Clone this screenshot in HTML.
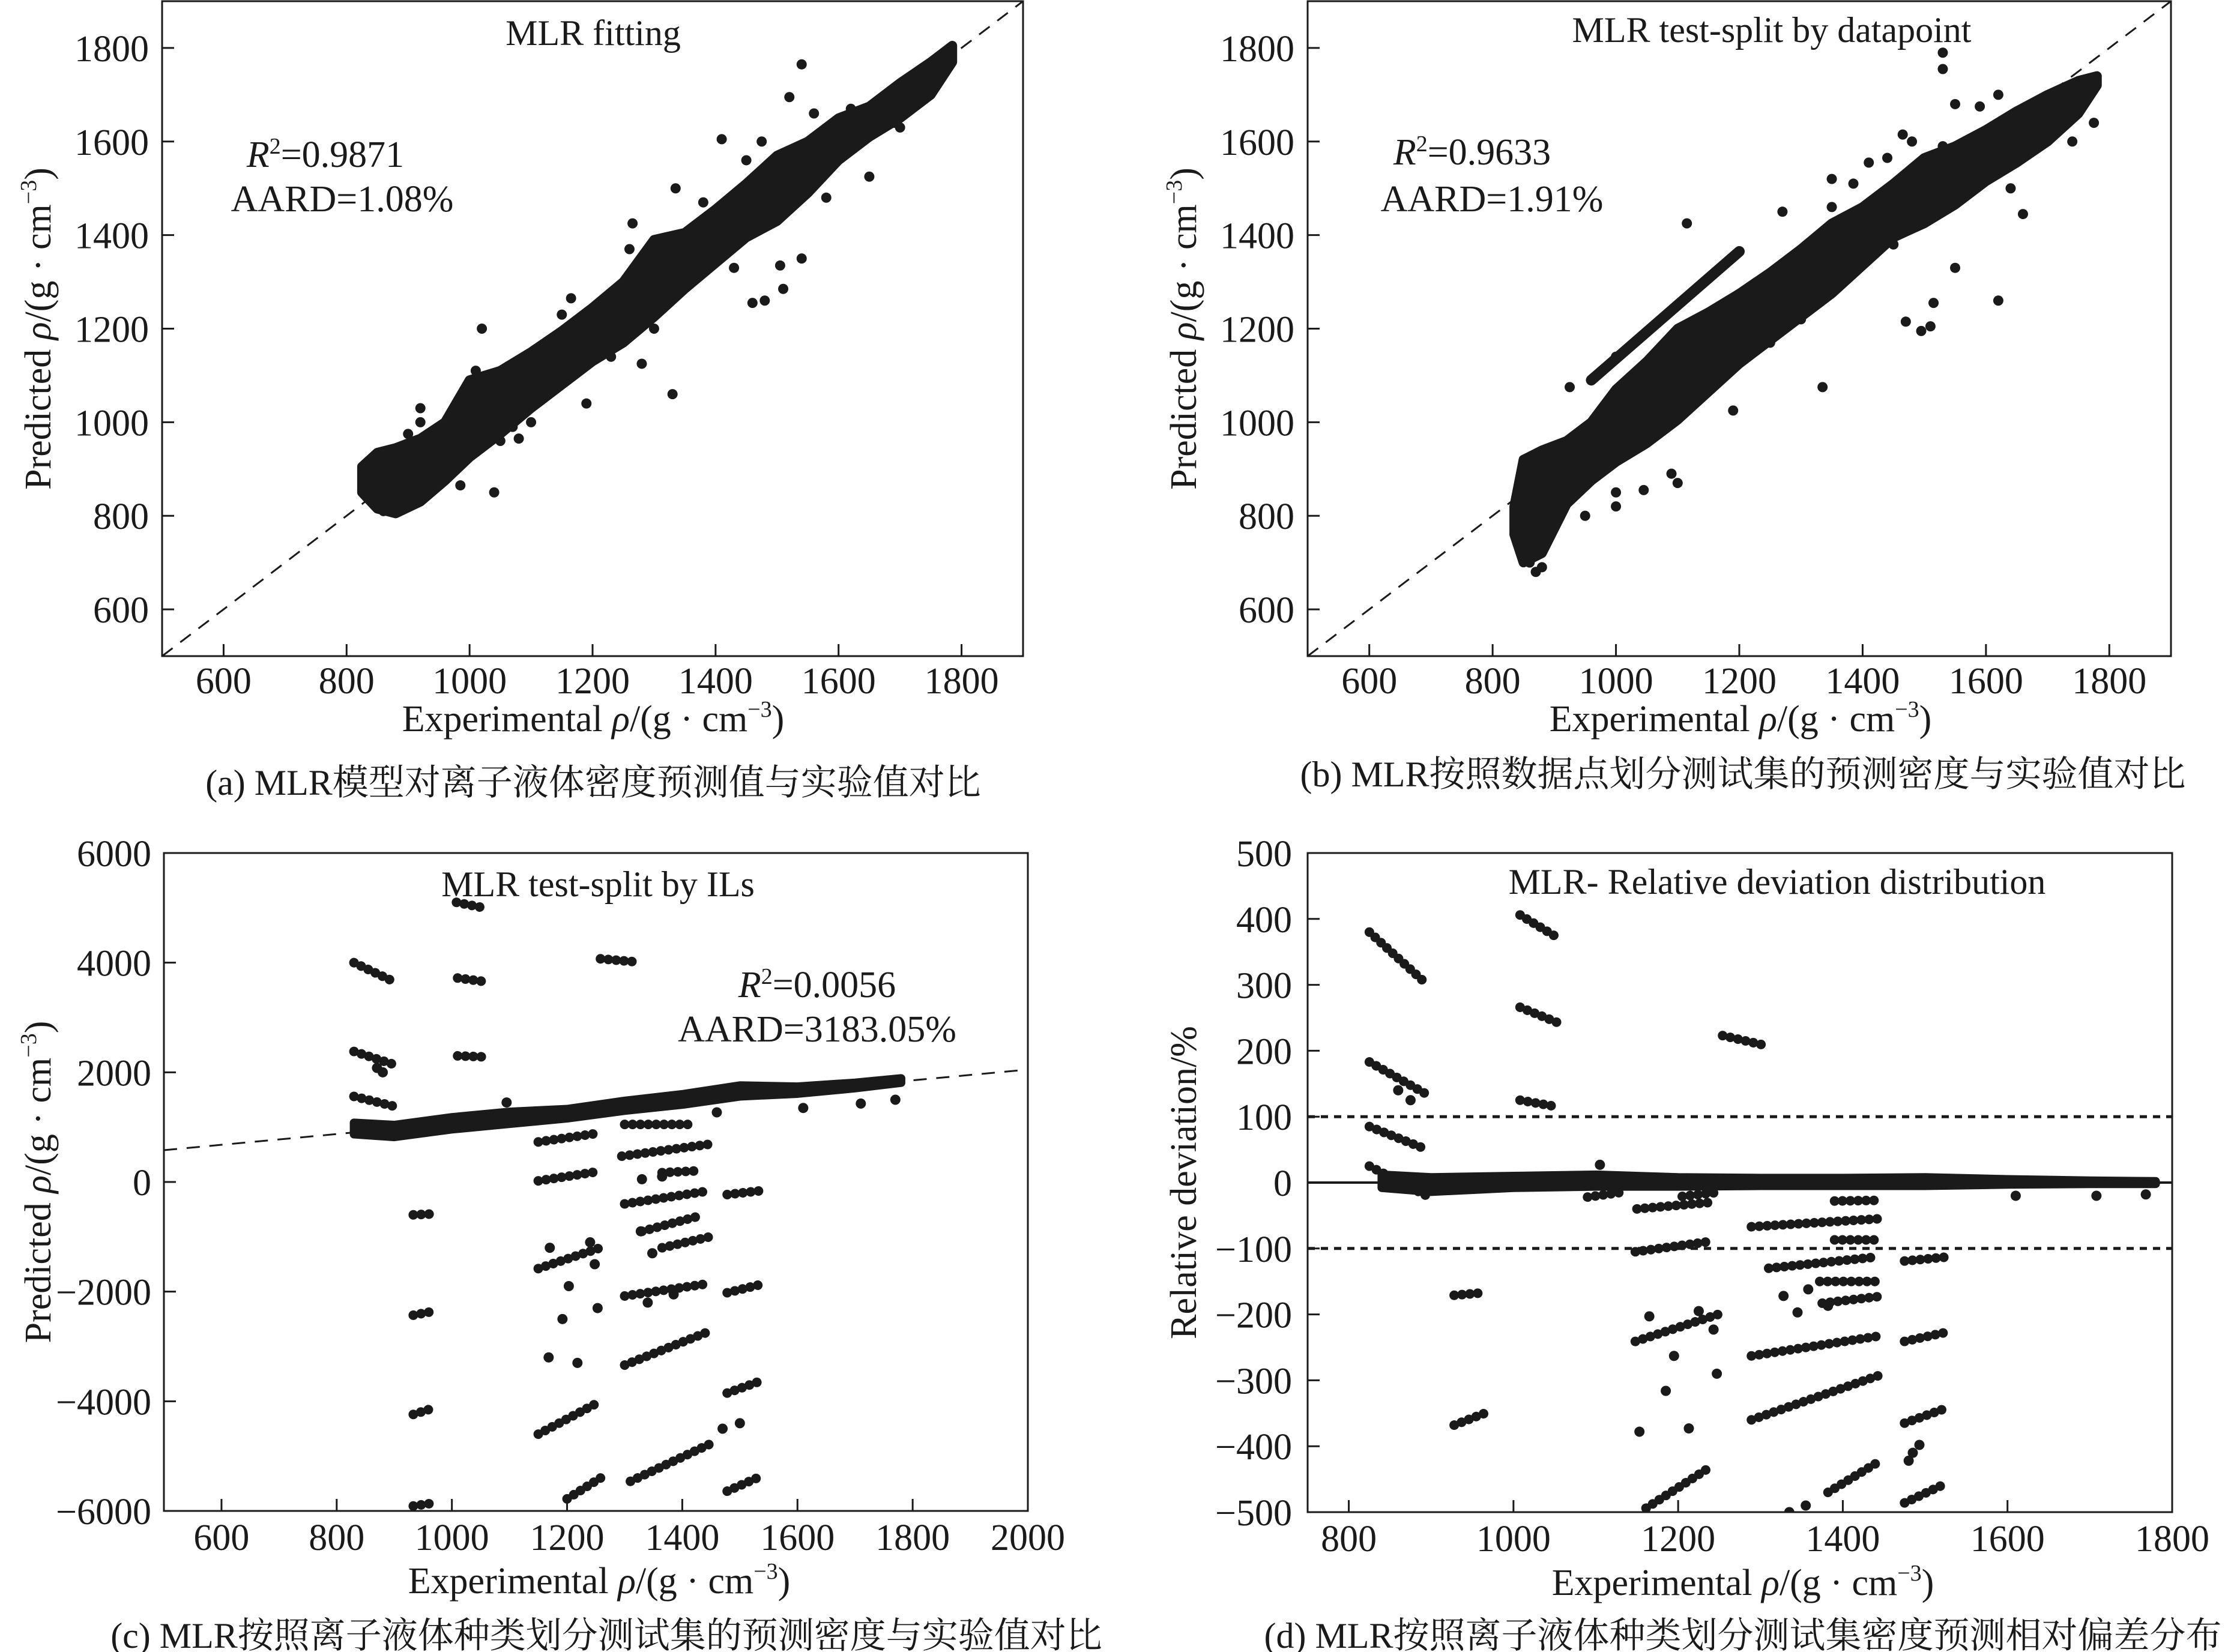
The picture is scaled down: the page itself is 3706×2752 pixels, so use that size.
<!DOCTYPE html>
<html><head><meta charset="utf-8"><style>
html,body{margin:0;padding:0;background:#fff;}
svg{display:block;}
text{font-family:"Liberation Serif","Noto Serif CJK SC",serif;fill:#1a1a1a;}
</style></head><body>
<svg id="fig" width="3706" height="2752" viewBox="0 0 3706 2752" xmlns="http://www.w3.org/2000/svg"></svg>
<script>
// ---------- Panel (a) data ----------
const aBandExp = [825,850,880,920,960,1000,1050,1100,1150,1200,1250,1300,1350,1400,1450,1500,1550,1600,1650,1700,1750,1785];
const aBandHi  = [905,935,945,965,1000,1090,1110,1150,1195,1245,1300,1390,1405,1455,1510,1570,1600,1650,1675,1725,1770,1805];
const aBandLo  = [850,815,805,830,875,925,975,1030,1080,1130,1170,1225,1285,1340,1395,1430,1490,1560,1610,1650,1700,1770];
const aOutExp  = [1020,920,920,900,1040,985,1165,1190,1280,1330,1410,1475,1540,1520,1540,1460,1480,1510,1505,1650,1580,1335,1265,1560,1740,1710,1690,1430,1050,1080,1000,1010,1070,1100,1150,1230,1260,1300,1380,1450,1500,1600,1620,1700,1720,940,960,880,860];
const aOutPred = [1200,1030,1000,975,850,865,1265,1040,1125,1060,1605,1600,1765,1695,1350,1255,1260,1285,1335,1525,1480,1500,1425,1660,1700,1665,1640,1330,960,965,1080,1110,990,1000,1230,1140,1370,1200,1470,1560,1520,1590,1670,1630,1690,870,980,830,810];
// ---------- Panel (b) data ----------
const bBandExp = [835,850,880,920,960,1000,1050,1100,1150,1200,1250,1300,1350,1400,1450,1500,1550,1600,1650,1700,1750,1780];
const bBandHi  = [820,920,940,960,1000,1070,1130,1200,1235,1275,1320,1370,1425,1460,1510,1565,1590,1625,1665,1700,1730,1740];
const bBandLo  = [760,700,720,825,875,915,955,1005,1065,1125,1175,1225,1275,1335,1395,1425,1465,1515,1555,1600,1660,1720];
const bStreakExp = [960,1200];
const bStreakPred = [1090,1365];
const bOutExp  = [925,1115,1270,1335,1530,1530,1550,1590,1620,1465,1470,1495,1510,1515,1550,1620,1660,1640,1775,1740,1190,1100,1090,1045,1000,950,1000,1350,1385,1410,1440,1530,1480,870,880,860,1000,1050,1150,1250,1300,1350,1450,1560,1600,1690,1720];
const bOutPred = [1075,1425,1450,1075,1790,1755,1680,1675,1700,1615,1215,1195,1205,1255,1330,1260,1445,1500,1640,1600,1025,870,890,855,820,800,850,1520,1510,1555,1565,1590,1600,680,690,700,1140,1090,1120,1170,1220,1460,1380,1510,1540,1600,1650];
// ---------- Panel (c) data ----------
const cBandExp = [830,900,1000,1100,1200,1300,1400,1500,1600,1700,1780];
const cBandHi  = [1080,1040,1180,1280,1330,1480,1600,1760,1740,1810,1890];
const cBandLo  = [870,820,960,1060,1160,1300,1410,1560,1610,1710,1810];
const cSegX1 = [830,830,830,1008,1010,1010,1258,933,933,933,933,1150,1150,1150,1150,1200,1295,1300,1330,1365,1300,1300,1310,1478,1478,1478,1478,1300,1365];
const cSegY1 = [4000,2380,1560,5100,3720,2300,4070,-600,-2430,-4240,-5910,20,730,-1580,-4600,-5780,470,-400,-900,-1200,-2080,-3340,-5460,-230,-2020,-3850,-5640,1050,170];
const cSegX2 = [900,900,900,1060,1060,1060,1313,972,972,972,972,1248,1248,1258,1258,1258,1448,1448,1430,1448,1448,1448,1448,1536,1536,1536,1536,1420,1420];
const cSegY2 = [3650,2140,1380,4990,3650,2280,4020,-580,-2350,-4110,-5850,180,880,-1200,-4000,-5400,690,-160,-620,-1000,-1850,-2720,-4780,-160,-1870,-3630,-5370,1050,200];
const cPtExp  = [1168,1218,1192,1203,1248,1253,1328,1348,1340,1385,1500,1470,1330,1365,1095,1610,1710,1770,1460,870,880,1170,1240];
const cPtPred = [-3200,-3300,-2500,-1900,-1500,-2300,-900,-1300,-2200,-2050,-4400,-4500,50,100,1450,1350,1430,1500,1270,2080,2000,-1200,-1100];
const cLineX = [500,2000];
const cLineY = [580,2050];
// ---------- Panel (d) data ----------
const dBandExp = [840,900,1000,1100,1200,1300,1400,1500,1600,1700,1780];
const dBandHi  = [12,8,10,12,8,7,7,8,5,3,2];
const dBandLo  = [-8,-14,-8,-6,-6,-5,-5,-5,-3,-2,-2];
const dSegX1 = [825,825,825,825,1008,1008,1008,1254,928,928,1150,1148,1148,1161,1289,1289,1310,1390,1372,1375,1289,1382,1475,1475,1475,1475,1390,1205,1090];
const dSegY1 = [380,183,85,25,406,266,125,223,-171,-368,-40,-105,-241,-494,-360,-67,-130,-87,-150,-183,-263,-470,-119,-241,-365,-486,-28,-21,-22];
const dSegX2 = [893,893,893,893,1053,1053,1053,1306,965,965,1240,1241,1251,1241,1443,1443,1440,1443,1443,1443,1443,1443,1526,1526,1526,1526,1440,1247,1130];
const dSegY2 = [303,135,51,-19,372,243,115,208,-167,-350,-30,-89,-199,-430,-293,-55,-113,-87,-150,-173,-233,-424,-113,-227,-342,-456,-27,-15,-15];
const dPtExp  = [1165,1185,1195,1213,1153,1243,1247,1225,1328,1345,1358,1382,1493,1485,1480,1610,1708,1768,1105,1335,1355,860,875];
const dPtDev  = [-203,-316,-263,-373,-378,-223,-290,-195,-172,-197,-162,-187,-398,-410,-422,-20,-20,-18,27,-500,-490,140,125];
const dRefLines = [100,-100];

const NS = "http://www.w3.org/2000/svg";
const svg = document.getElementById('fig');
const INK = "#1a1a1a";
function mk(tag, attrs, parent){ const e=document.createElementNS(NS,tag); for(const k in attrs) e.setAttribute(k,attrs[k]); (parent||svg).appendChild(e); return e; }

const panels = [
 {id:'a', x0:270, x1:1704, y0:2, y1:1093, xmin:500, xmax:1900, ymin:500, ymax:1900, xt:[600,800,1000,1200,1400,1600,1800], yt:[600,800,1000,1200,1400,1600,1800], xlY:1155, xtitleX:988, xtitleY:1218, ytitleX:62, ylabR:248, title:'MLR fitting', titleX:988, titleY:75, ytitle:'pred'},
 {id:'b', x0:2178, x1:3616, y0:2, y1:1093, xmin:500, xmax:1900, ymin:500, ymax:1900, xt:[600,800,1000,1200,1400,1600,1800], yt:[600,800,1000,1200,1400,1600,1800], xlY:1155, xtitleX:2899, xtitleY:1218, ytitleX:1970, ylabR:2156, title:'MLR test-split by datapoint', titleX:2951, titleY:70, ytitle:'pred'},
 {id:'c', x0:273, x1:1712, y0:1421, y1:2517, xmin:500, xmax:2000, ymin:-6000, ymax:6000, xt:[600,800,1000,1200,1400,1600,1800,2000], yt:[-6000,-4000,-2000,0,2000,4000,6000], xlY:2582, xtitleX:998, xtitleY:2654, ytitleX:62, ylabR:252, title:'MLR test-split by ILs', titleX:996, titleY:1493, ytitle:'pred'},
 {id:'d', x0:2178, x1:3618, y0:1421, y1:2519, xmin:750, xmax:1800, ymin:-500, ymax:500, xt:[800,1000,1200,1400,1600,1800], yt:[-500,-400,-300,-200,-100,0,100,200,300,400,500], xlY:2584, xtitleX:2903, xtitleY:2657, ytitleX:1970, ylabR:2152, title:'MLR- Relative deviation distribution', titleX:2960, titleY:1489, ytitle:'dev'}
];
function sx(p,v){return p.x0+(v-p.xmin)/(p.xmax-p.xmin)*(p.x1-p.x0);}
function sy(p,v){return p.y1-(v-p.ymin)/(p.ymax-p.ymin)*(p.y1-p.y0);}
function fmt(v){return v<0?'\u2212'+Math.abs(v):String(v);}

panels.forEach(p=>{
  const g = mk('g',{});
  
  
  const cp = mk('clipPath',{id:'clip-'+p.id},g);
  mk('rect',{x:p.x0,y:p.y0,width:p.x1-p.x0,height:p.y1-p.y0},cp);
  const plot = mk('g',{'clip-path':'url(#clip-'+p.id+')'},g);
  
  
  p.plot = plot;
  const t = mk('text',{x:p.titleX,y:p.titleY,'font-size':60,'text-anchor':'middle'},g);
  t.textContent = p.title;
  
  
  p.xt.forEach(v=>{
    const x=sx(p,v);
    const tk = mk('line',{x1:x,x2:x,y1:p.y1,y2:p.y1-20,stroke:INK,'stroke-width':3},g);
    
    
    const l = mk('text',{x:x,y:p.xlY,'font-size':62,'text-anchor':'middle'},g);
    l.textContent = fmt(v);
    
    
  });
  p.yt.forEach(v=>{
    const y=sy(p,v);
    const tk = mk('line',{x1:p.x0,x2:p.x0+20,y1:y,y2:y,stroke:INK,'stroke-width':3},g);
    
    
    const l = mk('text',{x:p.ylabR,y:y+22,'font-size':62,'text-anchor':'end'},g);
    l.textContent = fmt(v);
    
    
  });
  const xt = mk('text',{x:p.xtitleX,y:p.xtitleY,'font-size':62,'text-anchor':'middle'},g);
  xt.innerHTML = 'Experimental <tspan font-style="italic">ρ</tspan>/(g · cm<tspan dy="-24" font-size="38">−3</tspan><tspan dy="24">)</tspan>';
  
  
  const cy=(p.y0+p.y1)/2;
  const yt = mk('text',{x:0,y:0,'font-size':62,'text-anchor':'middle',transform:'translate('+(p.ytitleX+22)+','+cy+') rotate(-90)'},g);
  if(p.ytitle==='pred') yt.innerHTML='Predicted <tspan font-style="italic">ρ</tspan>/(g · cm<tspan dy="-24" font-size="38">−3</tspan><tspan dy="24">)</tspan>';
  else yt.textContent='Relative deviation/%';
  
  
  p.g=g;
});

function band(p,xs,hi,lo,name,sw){
  let pts=[];
  for(let i=0;i<xs.length;i++) pts.push(sx(p,xs[i])+','+sy(p,hi[i]));
  for(let i=xs.length-1;i>=0;i--) pts.push(sx(p,xs[i])+','+sy(p,lo[i]));
  const e=mk('polygon',{points:pts.join(' '),fill:INK,stroke:INK,'stroke-width':sw||16,'stroke-linejoin':'round'},p.plot);
  
  
}
function dots(p,xs,ys,name){
  for(let i=0;i<xs.length;i++){
    const c=mk('circle',{cx:sx(p,xs[i]),cy:sy(p,ys[i]),r:8.5,fill:INK},p.plot);
    
    
  }
}
function segs(p,x1,y1,x2,y2,name,w){
  for(let i=0;i<x1.length;i++){
    const l=mk('line',{x1:sx(p,x1[i]),y1:sy(p,y1[i]),x2:sx(p,x2[i]),y2:sy(p,y2[i]),stroke:INK,'stroke-width':w||16,'stroke-linecap':'round','stroke-dasharray':'0.1 13'},p.plot);
    
    
  }
}
function dashLine(p,xa,ya,xb,yb,name,w,da){
  const l=mk('line',{x1:sx(p,xa),y1:sy(p,ya),x2:sx(p,xb),y2:sy(p,yb),stroke:INK,'stroke-width':w,'stroke-dasharray':da},p.plot);
  
  
}
const [pa,pb,pc,pd]=panels;
dashLine(pa,500,500,1900,1900,'parity-line',3,'22 16');
band(pa,aBandExp,aBandHi,aBandLo,'data-cloud');
dots(pa,aOutExp,aOutPred,'outlier-point');
dashLine(pb,500,500,1900,1900,'parity-line',3,'22 16');
band(pb,bBandExp,bBandHi,bBandLo,'data-cloud');
const st=mk('line',{x1:sx(pb,bStreakExp[0]),y1:sy(pb,bStreakPred[0]),x2:sx(pb,bStreakExp[1]),y2:sy(pb,bStreakPred[1]),stroke:INK,'stroke-width':18,'stroke-linecap':'round'},pb.plot);


dots(pb,bOutExp,bOutPred,'outlier-point');
dashLine(pc,cLineX[0],cLineY[0],cLineX[1],cLineY[1],'parity-line',3,'22 16');
band(pc,cBandExp,cBandHi,cBandLo,'data-cloud',14);
segs(pc,cSegX1,cSegY1,cSegX2,cSegY2,'point-series');
dots(pc,cPtExp,cPtPred,'scatter-point');
dRefLines.forEach(v=>dashLine(pd,750,v,1800,v,'threshold-line',5,'12 10'));
dashLine(pd,750,0,1800,0,'zero-line',4,'none');
band(pd,dBandExp,dBandHi,dBandLo,'data-cloud',14);
segs(pd,dSegX1,dSegY1,dSegX2,dSegY2,'point-series');
dots(pd,dPtExp,dPtDev,'scatter-point');

panels.forEach(p=>{
  const r=mk('rect',{x:p.x0,y:p.y0,width:p.x1-p.x0,height:p.y1-p.y0,fill:'none',stroke:INK,'stroke-width':3},p.g);
  
  
});
function ann(x,y,html,name){
  const t=mk('text',{x:x,y:y,'font-size':62,'text-anchor':'middle'});
  t.innerHTML=html;
  
  
}
ann(542,278,'<tspan font-style="italic">R</tspan><tspan dy="-22" font-size="38">2</tspan><tspan dy="22">=0.9871</tspan>','r2-annotation-a');
ann(570,352,'AARD=1.08%','aard-annotation-a');
ann(2452,274,'<tspan font-style="italic">R</tspan><tspan dy="-22" font-size="38">2</tspan><tspan dy="22">=0.9633</tspan>','r2-annotation-b');
ann(2485,352,'AARD=1.91%','aard-annotation-b');
ann(1361,1661,'<tspan font-style="italic">R</tspan><tspan dy="-22" font-size="38">2</tspan><tspan dy="22">=0.0056</tspan>','r2-annotation-c');
ann(1361,1735,'AARD=3183.05%','aard-annotation-c');
function cap(x,y,s,name){
  const t=mk('text',{x:x,y:y,'font-size':60,'text-anchor':'middle'});
  t.textContent=s;
  
  
}
cap(988,1324,'(a) MLR模型对离子液体密度预测值与实验值对比','caption-a');
cap(2903,1310,'(b) MLR按照数据点划分测试集的预测密度与实验值对比','caption-b');
cap(1010,2745,'(c)  MLR按照离子液体种类划分测试集的预测密度与实验值对比','caption-c');
cap(2903,2745,'(d) MLR按照离子液体种类划分测试集密度预测相对偏差分布','caption-d');
</script>
</body></html>
